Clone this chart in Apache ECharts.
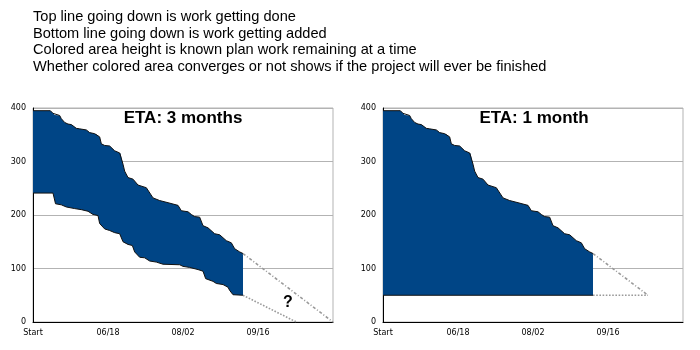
<!DOCTYPE html>
<html><head><meta charset="utf-8">
<script src="https://cdn.jsdelivr.net/npm/echarts@6/dist/echarts.min.js"></script>
<style>html,body{margin:0;padding:0;background:#fff}#c{width:700px;height:350px}</style>
</head><body><div id="c"></div>
<script>
// x = days since Start
const xTickLabels = ['Start', '06/18', '08/02', '09/16', ''];
const yTicks = [0, 100, 200, 300, 400];
const notes = [
  'Top line going down is work getting done',
  'Bottom line going down is work getting added',
  'Colored area height is known plan work remaining at a time',
  'Whether colored area converges or not shows if the project will ever be finished'
];
const titles = ['ETA: 3 months', 'ETA: 1 month'];

const topLine = [
  [0,395],[10.4,395],[12,390],[13,387],[16,386],[17,380],[19,373],[21,370],[23,369],[26,362],
  [28,361],[32,359],[34,354],[37,352],[38,351],[40,346],[41,333],[43,330],[46,329],[49,320],
  [52,316],[52.5,315],[54,295],[55,282],[57,270],[60,267],[63,256],[66,253],[68,251],[72,232],
  [76,227],[81,223],[87,218],[89,208],[93,206],[95,201],[97,197],[100,196],[102,180],[105,176],
  [109,165],[112,163],[116,152],[119,148],[121,137],[124,131],[126,128]
];
const bottomLine = [
  [0,241],[12,241],[13.5,221],[17,219],[20,215],[25,212],[29,210],[33,207],[36,201],[39,199],
  [40,184],[43,174],[46,171],[49,167],[52,165],[54,150],[57,145],[59.6,143],[61,131],[64,121],
  [67,120],[70,114],[74,112],[78,108],[88,107],[90,104],[94,102],[99,98],[102,95],[103.6,81],
  [108,76],[110,72],[114,70],[117,65],[118,59],[120,51],[126,50]
];
const bottomFlat = [[0,50],[126,50]];
const topProjLeft = [[126,128],[180,0]];
const bottomProjLeft = [[126,50],[158,0]];
const topProjRight = [[126,128],[159,50]];
const bottomProjRight = [[126,50],[159,50]];

const FILL = '#004586';
const GRIDC = '#b3b3b3';
const PROJ = '#9a9a9a';

function axes(i) {
  return {
    x: {
      type: 'value', gridIndex: i, min: 0, max: 180, interval: 45,
      axisLine: {lineStyle: {color: '#000', width: 1}},
      axisTick: {show: false}, splitLine: {show: false},
      axisLabel: {color: '#000', fontFamily: 'DejaVu Sans', fontSize: 8, margin: 7,
        formatter: v => xTickLabels[Math.round(v / 45)]}
    },
    y: {
      type: 'value', gridIndex: i, min: 0, max: 400, interval: 100,
      axisLine: {show: true, lineStyle: {color: '#000', width: 1}},
      axisTick: {show: false},
      splitLine: {lineStyle: {color: GRIDC, width: 1}},
      axisLabel: {color: '#000', fontFamily: 'DejaVu Sans', fontSize: 8, margin: 7}
    }
  };
}
const a0 = axes(0), a1 = axes(1);

function band(i, upper, lower) {
  return {
    type: 'custom', xAxisIndex: i, yAxisIndex: i, data: [[0, 0]], z: 2,
    renderItem: function (params, api) {
      const pts = upper.map(p => api.coord(p)).concat(lower.slice().reverse().map(p => api.coord(p)));
      return {type: 'polygon', shape: {points: pts}, style: {fill: FILL}};
    }
  };
}
function edge(i, data) {
  return {type: 'line', xAxisIndex: i, yAxisIndex: i, data: data, symbol: 'none', z: 3,
    lineStyle: {color: '#111', width: 1}};
}
function proj(i, data, type) {
  return {type: 'line', xAxisIndex: i, yAxisIndex: i, data: data, symbol: 'none', z: 3,
    lineStyle: {color: PROJ, width: 1.6, type: type}};
}

const chart = echarts.init(document.getElementById('c'));
chart.setOption({
  animation: false,
  backgroundColor: '#fff',
  title: [
    {text: notes.join('\n'), left: 28, top: 4,
      textStyle: {fontFamily: 'Liberation Sans', fontSize: 14.6, fontWeight: 'normal', color: '#000', lineHeight: 16.5}},
    {text: titles[0], left: 178, top: 105, textAlign: 'center',
      textStyle: {fontFamily: 'Liberation Sans', fontSize: 17, fontWeight: 'bold', color: '#000'}},
    {text: titles[1], left: 529, top: 105, textAlign: 'center',
      textStyle: {fontFamily: 'Liberation Sans', fontSize: 17, fontWeight: 'bold', color: '#000'}}
  ],
  graphic: [
    {type: 'text', left: 283, top: 295, style: {text: '?', font: 'bold 16px "Liberation Sans"', fill: '#000'}}
  ],
  grid: [
    {left: 33, width: 300, top: 108, height: 214, show: true, borderColor: GRIDC, borderWidth: 1},
    {left: 383, width: 300, top: 108, height: 214, show: true, borderColor: GRIDC, borderWidth: 1}
  ],
  xAxis: [a0.x, a1.x],
  yAxis: [a0.y, a1.y],
  series: [
    band(0, topLine, bottomLine),
    edge(0, topLine),
    edge(0, bottomLine),
    proj(0, topProjLeft, [3, 2, 1, 2]),
    proj(0, bottomProjLeft, 'dotted'),
    band(1, topLine, bottomFlat),
    edge(1, topLine),
    edge(1, bottomFlat),
    proj(1, topProjRight, [3, 2, 1, 2]),
    proj(1, bottomProjRight, 'dotted')
  ]
});
</script>
</body></html>
